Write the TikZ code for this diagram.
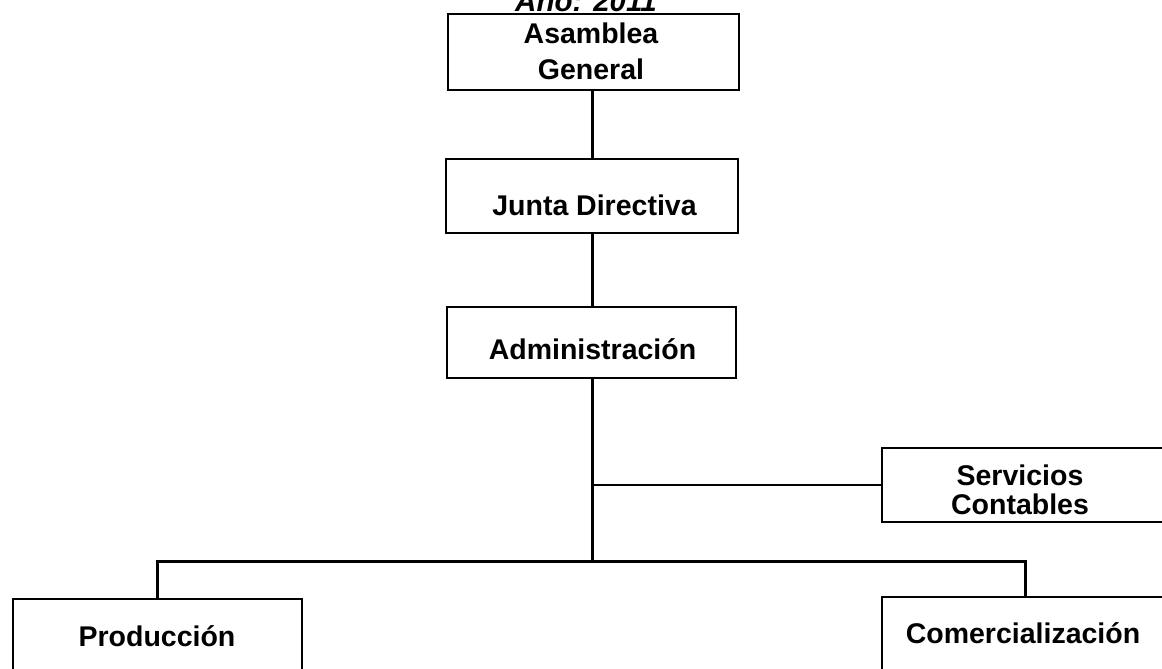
\documentclass[tikz,border=0pt]{standalone}
\usepackage{fontspec}
\setmainfont{Liberation Sans}
\begin{document}
\begin{tikzpicture}[x=1pt,y=-1pt,
  orgbox/.style={draw=black, line width=2pt, inner sep=0pt, minimum width=#1},
  lbl/.style={anchor=base, inner sep=0pt, font=\fontsize{28.5}{30}\selectfont\bfseries},
  conn/.style={line width=3pt},
  thinconn/.style={line width=2pt}]
\useasboundingbox (0,0) rectangle (1162,669);
% title (cut at the top edge, as in the reference)
\node[anchor=base, inner sep=0pt, font=\fontsize{29.5}{32}\selectfont\bfseries\itshape] (title) at (586,12) {Año: 2011};
% boxes
\node[orgbox=291, minimum height=76] (asam) at (593.5,52) {};
\node[orgbox=292, minimum height=74] (junta) at (592,196) {};
\node[orgbox=289, minimum height=71] (admin) at (591.5,342.5) {};
\node[orgbox=290, minimum height=74] (serv) at (1027,485) {};
\node[orgbox=289, minimum height=90] (prod) at (157.5,644) {};
\node[orgbox=286, minimum height=90] (comer) at (1025,642) {};
% labels
\node[lbl] (t1) at (591,44) {Asamblea};
\node[lbl] (t2) at (591,80) {General};
\node[lbl] (t3) at (594.5,215) {Junta Directiva};
\node[lbl] (t4) at (592.5,359) {Administración};
\node[lbl] (t5) at (1020,485) {Servicios};
\node[lbl] (t6) at (1020,514) {Contables};
\node[lbl] (t7) at (157,646) {Producción};
\node[lbl] (t8) at (1023,643) {Comercialización};
% connectors
\coordinate (bus) at (592,561);
\coordinate (sj) at (592,485);
\draw[conn] (junta.north |- asam.south) -- (junta.north);
\draw[conn] (junta.south) -- (junta.south |- admin.north);
\draw[conn] (bus |- admin.south) -- (bus);
\draw[thinconn] (sj) -- (serv.west);
\draw[conn] (prod.north) |- (bus) -| (comer.north);
\end{tikzpicture}
\end{document}
